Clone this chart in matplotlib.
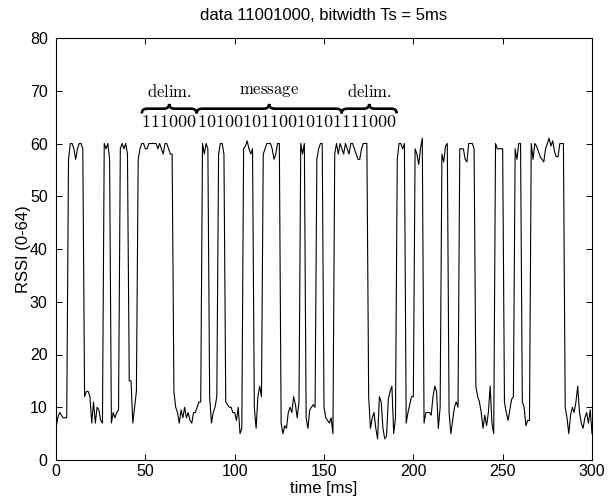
import numpy as np
import matplotlib
matplotlib.use("Agg")
import matplotlib.pyplot as plt
from matplotlib.path import Path
from matplotlib.patches import PathPatch

plt.rcParams['font.family'] = ['Liberation Sans', 'DejaVu Sans']
plt.rcParams['mathtext.fontset'] = 'cm'

# RSSI samples, one per ms
rssi = [
    6, 8, 9, 8.5, 8, 8, 8, 57, 60, 60,
    59, 57, 59, 60, 60, 59, 12, 13, 13, 12,
    7, 11, 7, 10, 9.5, 7.5, 7, 60, 59, 60,
    57, 7, 9, 8, 9, 9.5, 59, 60, 59, 60,
    58, 15, 15, 7, 10, 13, 57, 59, 60, 60,
    59, 59, 60, 60, 60, 60, 60, 59, 60, 59,
    58, 60, 60, 59, 58, 58, 13, 10, 9, 7,
    9.5, 8, 10, 8, 9, 7.5, 7, 9, 9, 10,
    11, 11, 60, 58, 60, 59, 12, 7, 9, 10,
    12, 58, 60, 60, 58, 11, 10.5, 10, 10, 9,
    9, 7.5, 10, 5, 6, 59, 59.5, 60.5, 59, 58,
    59, 10, 6, 12, 14, 12, 58, 59, 60, 60,
    60, 59, 57, 58, 60, 60, 7, 5, 6.5, 6,
    9, 10, 9, 12, 10.5, 8, 11, 60, 58, 60,
    8, 6, 9.5, 10, 10.5, 10, 57, 59, 60, 60,
    10, 8, 7.5, 7, 8, 5, 58, 60, 58, 60,
    59, 58, 60, 59, 58, 60, 60, 59, 58, 57,
    57, 59, 60, 60, 60, 12, 6, 8, 9, 6,
    4, 12, 11, 6, 4, 4.5, 11.5, 13, 14, 5,
    8, 57, 60, 60, 59, 60, 7, 9, 10.5, 12,
    12, 59, 58, 56, 59, 61, 7, 9, 9, 9,
    8.5, 12, 14, 13, 6, 10, 58, 56.5, 59.5, 60,
    9, 5, 7.5, 10, 11, 10, 59, 59, 59, 57,
    56.5, 60, 60, 60, 59, 14, 12, 11, 9, 6,
    8.5, 6.5, 9, 14, 7, 5, 60, 59, 59, 59,
    59, 11, 9, 7.5, 9.5, 11.5, 12, 59, 57, 60,
    60, 11, 10, 6.5, 7.5, 7.5, 60, 57, 60, 59.5,
    58.5, 57.5, 57, 56.5, 59, 60, 61, 59.5, 60.5, 58.5,
    57.5, 57.5, 60, 60, 60, 10, 8, 5, 8.5, 10,
    9, 11, 14, 9, 7, 6, 8, 9, 7, 9.5,
    5,
]
Ts_sample = 1.0  # ms
t = np.arange(len(rssi)) * Ts_sample

# frame annotation: brace edges (ms), labels and bit groups
brace_edges = [48, 78.7, 159.9, 190.7]
brace_labels = ['delim.', 'message', 'delim.']
bit_groups = ['111000', '1010010110010101', '111000']


def brace(ax, x0, x1, y, d=0.9, e=3.0):
    xm = 0.5 * (x0 + x1)
    verts = [(x0, y - d), (x0, y), (x0 + e, y), (xm - e, y),
             (xm, y), (xm, y + d), (xm, y), (xm + e, y),
             (x1 - e, y), (x1, y), (x1, y - d)]
    codes = [Path.MOVETO, Path.CURVE3, Path.CURVE3, Path.LINETO,
             Path.CURVE3, Path.CURVE3, Path.CURVE3, Path.CURVE3,
             Path.LINETO, Path.CURVE3, Path.CURVE3]
    ax.add_patch(PathPatch(Path(verts, codes), fc='none', ec='k', lw=1.9))


fig = plt.figure(figsize=(6.1, 5.0), dpi=100)
ax = fig.add_axes([0.0918, 0.08, 0.8787, 0.844])

ax.plot(t, rssi, color='k', lw=0.8)

for i, lab in enumerate(brace_labels):
    x0, x1 = brace_edges[i], brace_edges[i + 1]
    brace(ax, x0, x1, 66.6)
    ax.text(0.5 * (x0 + x1), 69.8, r'$\mathrm{' + lab + '}$', ha='center',
            va='center', fontsize=12)
    ax.text(0.5 * (x0 + x1), 63.9, r'$\mathrm{' + bit_groups[i] + '}$',
            ha='center', va='center', fontsize=13)

ax.set_xlim(0, 300)
ax.set_ylim(0, 80)
ax.set_xticks(np.arange(0, 301, 50))
ax.set_yticks(np.arange(0, 81, 10))
ax.tick_params(direction='in', top=True, right=True, length=4, width=0.7,
               labelsize=11.5)
ax.tick_params(axis='x', pad=3)
ax.tick_params(axis='y', pad=6)
for s in ax.spines.values():
    s.set_linewidth(0.8)

ax.set_title('data 11001000, bitwidth Ts = 5ms', fontsize=12, pad=13)
ax.set_xlabel('time [ms]', fontsize=12, labelpad=1)
ax.set_ylabel('RSSI (0-64)', fontsize=12, labelpad=-1)

fig.savefig('out.png', dpi=100)
